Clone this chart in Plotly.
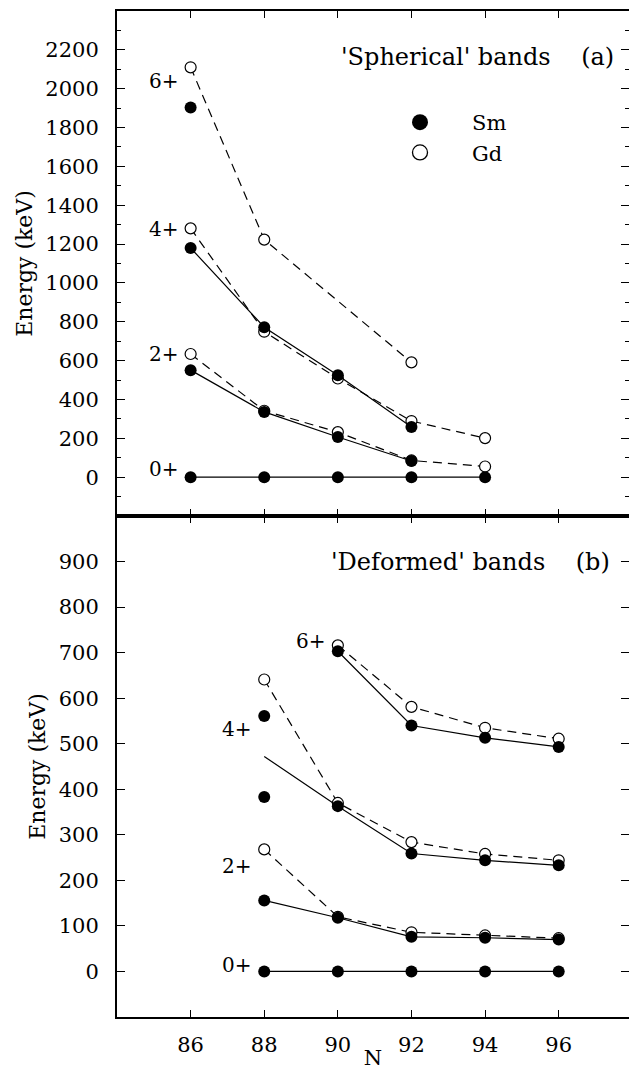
import plotly.graph_objects as go
from plotly.subplots import make_subplots

# ---------------- data ----------------
# (a) 'Spherical' bands
a_sm_0_N = [86, 88, 90, 92, 94]
a_sm_0 = [0, 0, 0, 0, 0]
a_sm_2_N = [86, 88, 90, 92]
a_sm_2 = [551, 336, 207, 83]
a_sm_4_N = [86, 88, 90, 92]
a_sm_4 = [1180, 772, 525, 258]
a_sm_6_N = [86]
a_sm_6 = [1903]
a_gd_2_N = [86, 88, 90, 92, 94]
a_gd_2 = [634, 342, 232, 86, 55]
a_gd_4_N = [86, 88, 90, 92, 94]
a_gd_4 = [1281, 749, 508, 289, 201]
a_gd_6_N = [86, 88, 92]
a_gd_6 = [2110, 1223, 591]

# (b) 'Deformed' bands
b_N = [88, 90, 92, 94, 96]
b_sm_0 = [0, 0, 0, 0, 0]
b_sm_2 = [156, 118, 76, 74, 70]
b_gd_2 = [268, 120, 86, 79, 73]
b_sm_4_N88 = [561, 383]          # two Sm 4+ states at N=88
b_sm_4_N = [90, 92, 94, 96]
b_sm_4 = [363, 259, 244, 233]
b_gd_4 = [641, 370, 284, 258, 244]
b_sm_6_N = [90, 92, 94, 96]
b_sm_6 = [703, 540, 513, 493]
b_gd_6_N = [90, 92, 94, 96]
b_gd_6 = [716, 581, 535, 511]

spin_labels = ["6+", "4+", "2+", "0+"]
a_yticks = [0, 200, 400, 600, 800, 1000, 1200, 1400, 1600, 1800, 2000, 2200]
a_minor = [-100, 100, 300, 500, 700, 900, 1100, 1300, 1500, 1700, 1900, 2100, 2300]
b_yticks = [0, 100, 200, 300, 400, 500, 600, 700, 800, 900]
x_ticks = [86, 88, 90, 92, 94, 96]

# ---------------- styling ----------------
FONT = "DejaVu Serif"
MS = 12
SOLID = dict(color="black", width=1.2)
DASH = dict(color="black", width=1.2, dash="9px,6px")
FILLED = dict(symbol="circle", size=MS, color="black", line=dict(width=0))
OPEN = dict(symbol="circle", size=MS - 1, color="white", line=dict(color="black", width=1.2))

fig = make_subplots(rows=2, cols=1, shared_xaxes=False, vertical_spacing=0,
                    row_heights=[0.502, 0.498])


def add(x, y, row, sm, mode="lines+markers"):
    fig.add_trace(go.Scatter(x=x, y=y, mode=mode, line=SOLID if sm else DASH,
                             marker=FILLED if sm else OPEN, showlegend=False,
                             hoverinfo="skip"), row=row, col=1)


# panel (a): Gd first (underneath), then Sm
add(a_gd_2_N, a_gd_2, 1, False)
add(a_gd_4_N, a_gd_4, 1, False)
add(a_gd_6_N, a_gd_6, 1, False)
add(a_sm_0_N, a_sm_0, 1, True)
add(a_sm_2_N, a_sm_2, 1, True)
add(a_sm_4_N, a_sm_4, 1, True)
add(a_sm_6_N, a_sm_6, 1, True, mode="markers")

# panel (b)
add(b_N, b_gd_2, 2, False)
add(b_N, b_gd_4, 2, False)
add(b_gd_6_N, b_gd_6, 2, False)
add(b_N, b_sm_0, 2, True)
add(b_N, b_sm_2, 2, True)
b_sm_4_start = sum(b_sm_4_N88) / len(b_sm_4_N88)
add([b_N[0]] + b_sm_4_N, [b_sm_4_start] + b_sm_4, 2, True, mode="lines")
add(b_sm_4_N, b_sm_4, 2, True, mode="markers")
add([b_N[0]] * len(b_sm_4_N88), b_sm_4_N88, 2, True, mode="markers")
add(b_sm_6_N, b_sm_6, 2, True)

# legend entries
fig.add_trace(go.Scatter(x=[None], y=[None], mode="markers", name="Sm",
                         marker=dict(symbol="circle", size=16, color="black")), row=1, col=1)
fig.add_trace(go.Scatter(x=[None], y=[None], mode="markers", name="Gd",
                         marker=dict(symbol="circle", size=15, color="white",
                                     line=dict(color="black", width=1.3))), row=1, col=1)

# invisible traces so that right-side tick-only axes are drawn
fig.add_trace(go.Scatter(x=[None], y=[None], xaxis="x", yaxis="y3", showlegend=False,
                         hoverinfo="skip"))
fig.add_trace(go.Scatter(x=[None], y=[None], xaxis="x2", yaxis="y4", showlegend=False,
                         hoverinfo="skip"))

# spin labels
a_lab_pos = [(85.25, 2040), (85.25, 1278), (85.25, 636), (85.25, 40)]
b_lab_pos = [(89.25, 726), (87.25, 533), (87.25, 232), (87.25, 15)]
for lab, (xx, yy) in zip(spin_labels, a_lab_pos):
    fig.add_annotation(x=xx, y=yy, xref="x", yref="y", text=lab, showarrow=False,
                       font=dict(family=FONT, size=20, color="black"))
for lab, (xx, yy) in zip(spin_labels, b_lab_pos):
    fig.add_annotation(x=xx, y=yy, xref="x2", yref="y2", text=lab, showarrow=False,
                       font=dict(family=FONT, size=20, color="black"))

SP = "\u00a0" * 4
fig.add_annotation(x=97.55, y=2165, xref="x", yref="y", xanchor="right",
                   text="'Spherical' bands" + SP + "(a)", showarrow=False,
                   font=dict(family=FONT, size=24, color="black"))
fig.add_annotation(x=97.45, y=900, xref="x2", yref="y2", xanchor="right",
                   text="'Deformed' bands" + SP + "(b)", showarrow=False,
                   font=dict(family=FONT, size=24, color="black"))

XR = [84, 97.91]
common_x = dict(range=XR, tickvals=x_ticks, ticks="inside", ticklen=7, tickwidth=1.3,
                tickcolor="black", showline=True, linecolor="black", linewidth=2,
                mirror="ticks", showgrid=False, zeroline=False, ticklabelstandoff=8,
                automargin=False, tickfont=dict(family=FONT, size=21, color="black"))
fig.update_xaxes(**common_x)
fig.update_xaxes(showticklabels=False, linewidth=1.5, row=1, col=1)
fig.update_xaxes(title=dict(text="N", font=dict(family=FONT, size=21, color="black"),
                            standoff=3), row=2, col=1)

common_y = dict(ticks="inside", ticklen=8, tickwidth=1.3, tickcolor="black",
                showline=True, linecolor="black", linewidth=2, mirror=False,
                showgrid=False, zeroline=False, ticklabelstandoff=12, automargin=False,
                tickfont=dict(family=FONT, size=21, color="black"),
                title=dict(text="Energy (keV)", font=dict(family=FONT, size=22, color="black"),
                           standoff=7))
fig.update_yaxes(**common_y)
MINOR_A = dict(tickvals=a_minor, ticks="inside", ticklen=4, tickwidth=1.2,
               tickcolor="black", showgrid=False)
fig.update_yaxes(range=[-200, 2400], tickvals=a_yticks, minor=MINOR_A, row=1, col=1)
fig.update_yaxes(range=[-100, 1000], tickvals=b_yticks, row=2, col=1)

right_common = dict(side="right", showline=False, ticks="inside", ticklen=8, tickwidth=1.3,
                    tickcolor="black", showticklabels=False, showgrid=False, zeroline=False,
                    automargin=False)

fig.update_layout(
    yaxis3=dict(overlaying="y", anchor="x", range=[-200, 2400], tickvals=a_yticks,
                minor=MINOR_A, **right_common),
    yaxis4=dict(overlaying="y2", anchor="x2", range=[-100, 1000], tickvals=b_yticks,
                **right_common),
    width=629, height=1070,
    margin=dict(l=117, r=0, t=11, b=53, autoexpand=False),
    paper_bgcolor="white", plot_bgcolor="white",
    showlegend=True,
    legend=dict(x=(368 - 117) / 512, y=(1017 - 102) / 1006, xanchor="left", yanchor="top",
                font=dict(family=FONT, size=21, color="black"), itemwidth=94,
                bgcolor="rgba(0,0,0,0)", tracegroupgap=0),
)

fig.write_html("out.html", config={"displayModeBar": False})
